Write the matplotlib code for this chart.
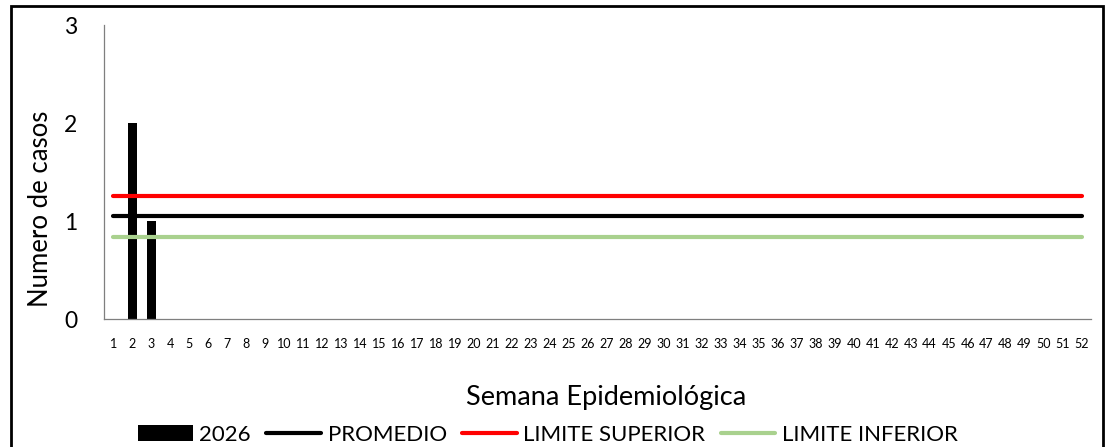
import matplotlib
matplotlib.use("Agg")
import matplotlib.pyplot as plt
from matplotlib.patches import Rectangle

weeks = list(range(1, 53))
cases_2026 = [0, 2, 1] + [0] * 49
promedio = 1.05
limite_superior = 1.26
limite_inferior = 0.84

plt.rcParams['font.family'] = ['Lato', 'DejaVu Sans']

fig = plt.figure(figsize=(11.05, 4.47), dpi=100)
ax = fig.add_axes([104/1105, 1-319/447, (1091-104)/1105, (319-25)/447])

b = ax.bar(weeks, cases_2026, width=0.5, color='black', label='2026', zorder=2)
l1, = ax.plot(weeks, [promedio]*len(weeks), color='black', lw=3, solid_capstyle='round', label='PROMEDIO', zorder=3)
l2, = ax.plot(weeks, [limite_superior]*len(weeks), color='#ff0000', lw=3, solid_capstyle='round', label='LIMITE SUPERIOR', zorder=3)
l3, = ax.plot(weeks, [limite_inferior]*len(weeks), color='#a9d18e', lw=3, solid_capstyle='round', label='LIMITE INFERIOR', zorder=3)

ax.set_xlim(0.5, 52.5)
ax.set_ylim(0, 3)
ax.set_yticks([0, 1, 2, 3])
ax.set_xticks(weeks)
ax.set_xticklabels([str(w) for w in weeks], fontsize=9)
ax.tick_params(axis='x', length=0, pad=14)
ax.tick_params(axis='y', length=0, pad=19, labelsize=16.5)
for s in ['top', 'right']:
    ax.spines[s].set_visible(False)
ax.spines['left'].set_color('#7f7f7f')
ax.spines['bottom'].set_color('#7f7f7f')
ax.spines['left'].set_linewidth(0.9)
ax.spines['bottom'].set_linewidth(0.9)

ax.set_ylabel('Numero de casos', fontsize=18.5, va='center')
ax.yaxis.set_label_coords((41 - 104) / 987, (319 - 209) / 294)
fig.text(606/1105, 1-397/447, 'Semana Epidemiológica', fontsize=19.5, ha='center', va='center')

leg = fig.legend([b, l1, l2, l3], ['2026', 'PROMEDIO', 'LIMITE SUPERIOR', 'LIMITE INFERIOR'],
                 loc='center', bbox_to_anchor=(548/1105, 1-435/447), ncol=4,
                 frameon=False, fontsize=16, handlelength=2.45, handleheight=0.7,
                 columnspacing=0.7, handletextpad=0.3, borderaxespad=0, borderpad=0)

fig.add_artist(Rectangle((11/1105, -0.01), (1103-11)/1105, (447-6)/447 + 0.01, transform=fig.transFigure,
                         fill=False, edgecolor='black', lw=2, clip_on=False))

fig.savefig('out.png', dpi=100)
